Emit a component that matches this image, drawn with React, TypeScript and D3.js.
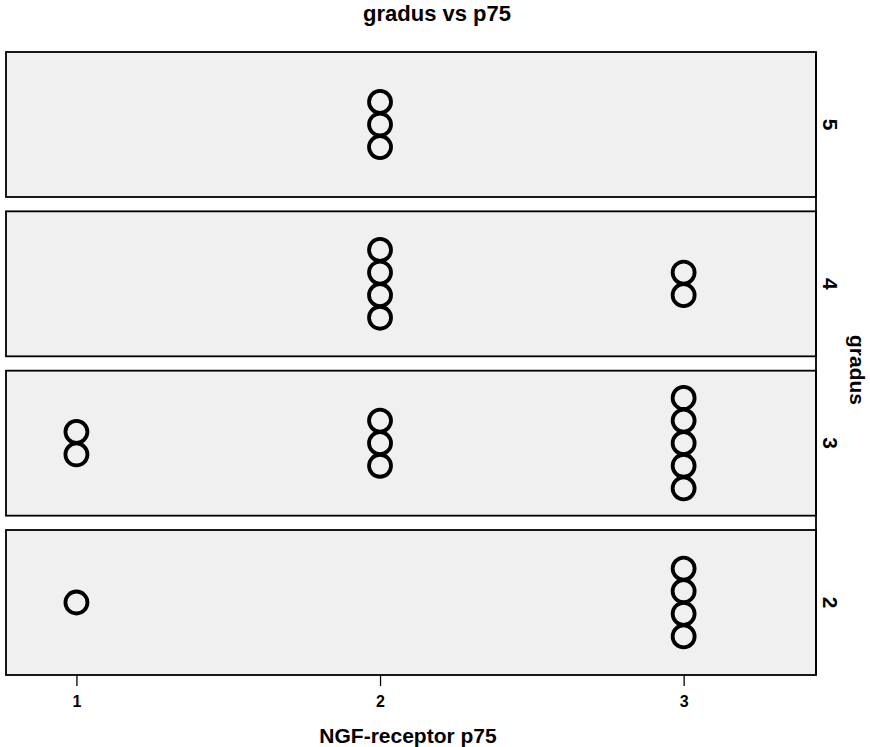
import React, { useEffect, useRef } from "react";
import * as d3 from "d3";

// gradus levels, top panel first
const gradusLevels = [5, 4, 3, 2];
// NGF-receptor p75 values on the x axis
const p75Ticks = [1, 2, 3];
// number of cases per p75 value (1, 2, 3) in each gradus panel
const gradus5Counts = [0, 3, 0];
const gradus4Counts = [0, 4, 2];
const gradus3Counts = [2, 3, 5];
const gradus2Counts = [1, 0, 4];

const countsByLevel = [gradus5Counts, gradus4Counts, gradus3Counts, gradus2Counts];

const App = () => {
  const chartRef = useRef<HTMLDivElement | null>(null);

  useEffect(() => {
    if (!chartRef.current) return;
    d3.select(chartRef.current).select("svg").remove();

    const width = 870;
    const height = 747;
    const left = 6;
    const right = 816;
    const top = 52;
    const bottom = 675;
    const dotStep = 22.6; // vertical spacing of stacked dots
    const font = "'Liberation Sans', Arial, Helvetica, sans-serif";

    const svg = d3
      .select(chartRef.current)
      .append("svg")
      .attr("width", width)
      .attr("height", height)
      .style("display", "block")
      .style("background", "#ffffff");

    const x = d3.scaleLinear().domain([0.768, 3.436]).range([left, right]);
    const panel = d3
      .scaleBand<number>()
      .domain(gradusLevels)
      .range([top, bottom])
      .paddingInner(0.09)
      .paddingOuter(0);

    // title
    svg
      .append("text")
      .attr("x", 437)
      .attr("y", 21)
      .attr("text-anchor", "middle")
      .style("font-family", font)
      .style("font-weight", "bold")
      .style("font-size", "22px")
      .text("gradus vs p75");

    const panels = svg
      .selectAll("g.panel")
      .data(gradusLevels)
      .enter()
      .append("g")
      .attr("class", "panel")
      .attr("transform", (d) => `translate(0, ${panel(d)})`);

    panels
      .append("rect")
      .attr("x", left)
      .attr("y", 0)
      .attr("width", right - left)
      .attr("height", panel.bandwidth())
      .attr("fill", "#f0f0f0")
      .attr("stroke", "#000")
      .attr("stroke-width", 1.8);

    // right strip labels
    panels
      .append("text")
      .attr(
        "transform",
        `translate(831, ${panel.bandwidth() / 2}) rotate(90)`
      )
      .attr("text-anchor", "middle")
      .attr("dy", "0.36em")
      .style("font-family", font)
      .style("font-weight", "bold")
      .style("font-size", "21px")
      .text((d) => d);

    // stacked dots
    panels.each(function (level, li) {
      const g = d3.select(this);
      const mid = panel.bandwidth() / 2;
      const counts = countsByLevel[li];
      counts.forEach((n, ci) => {
        const offsets = d3.range(n).map((i) => (i - (n - 1) / 2) * dotStep);
        g.selectAll(null)
          .data(offsets)
          .enter()
          .append("circle")
          .attr("cx", x(p75Ticks[ci]))
          .attr("cy", (o) => mid - o)
          .attr("r", 11)
          .attr("fill", "none")
          .attr("stroke", "#000")
          .attr("stroke-width", 3.8);
      });
    });

    // continuous right border through the gaps
    svg
      .append("line")
      .attr("x1", right)
      .attr("x2", right)
      .attr("y1", top)
      .attr("y2", bottom)
      .attr("stroke", "#000")
      .attr("stroke-width", 1.8);

    // x axis
    const axis = svg
      .append("g")
      .attr("transform", `translate(0, ${bottom})`)
      .call(
        d3
          .axisBottom(x)
          .tickValues(p75Ticks)
          .tickSize(11)
          .tickPadding(10)
          .tickFormat(d3.format("d"))
      );
    axis.select(".domain").remove();
    axis.selectAll(".tick line").attr("stroke", "#000").attr("stroke-width", 1.3);
    axis
      .selectAll(".tick text")
      .attr("fill", "#000")
      .style("font-family", font)
      .style("font-weight", "bold")
      .style("font-size", "16px");

    svg
      .append("text")
      .attr("x", 408)
      .attr("y", 743)
      .attr("text-anchor", "middle")
      .style("font-family", font)
      .style("font-weight", "bold")
      .style("font-size", "21px")
      .text("NGF-receptor p75");

    svg
      .append("text")
      .attr("transform", `translate(857, 370) rotate(90)`)
      .attr("text-anchor", "middle")
      .attr("dy", "0.35em")
      .style("font-family", font)
      .style("font-weight", "bold")
      .style("font-size", "21px")
      .text("gradus");
  }, []);

  return (
    <div
      ref={chartRef}
      style={{ position: "absolute", left: 0, top: 0 }}
    ></div>
  );
};

export default App;
